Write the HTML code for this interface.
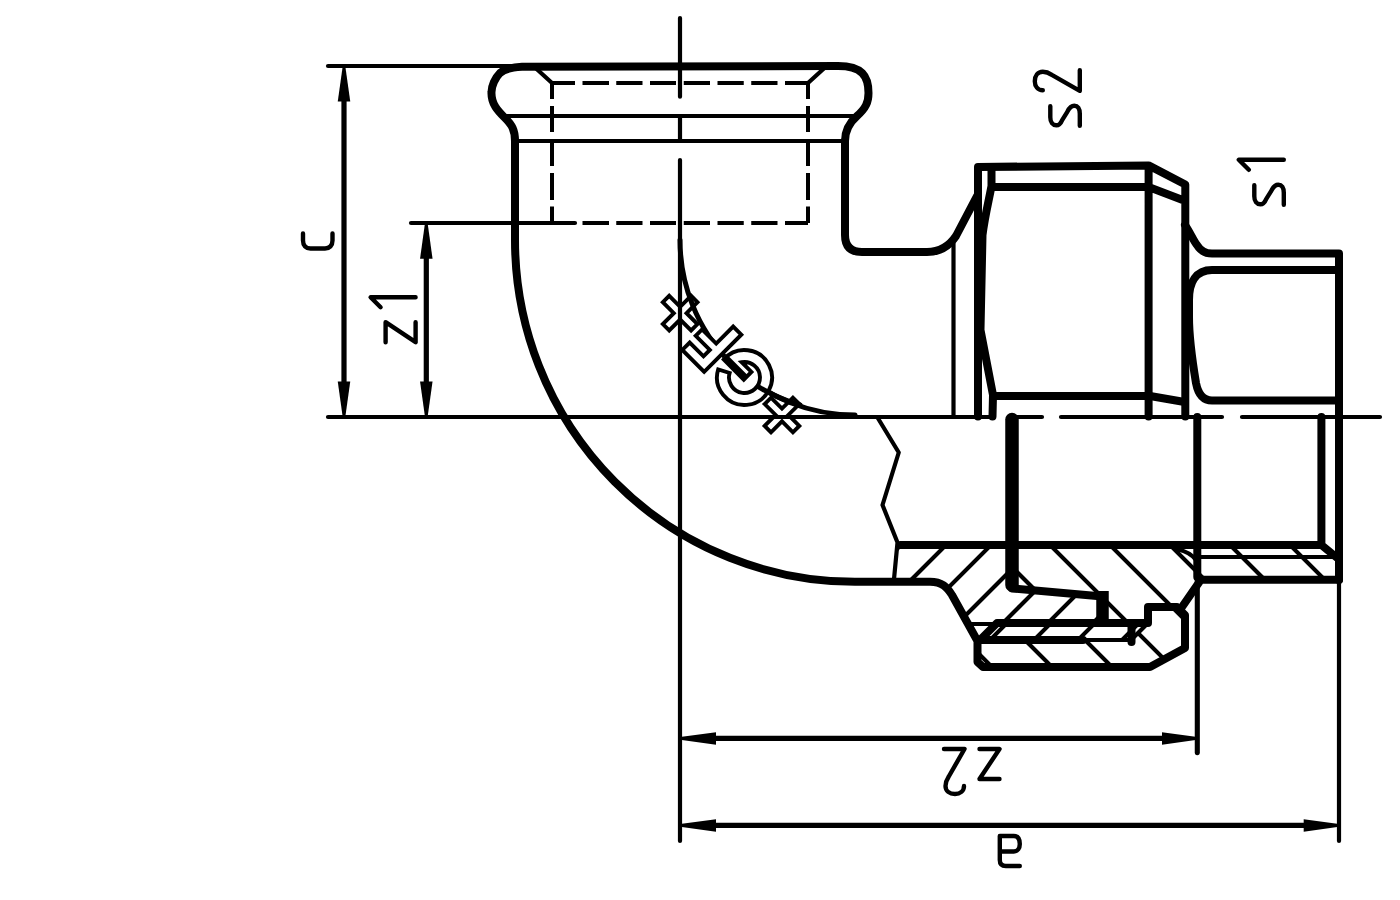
<!DOCTYPE html>
<html><head><meta charset="utf-8"><title>Union elbow drawing</title>
<style>html,body{margin:0;padding:0;background:#fff;width:1400px;height:900px;overflow:hidden;font-family:"Liberation Sans",sans-serif} svg{display:block}</style>
</head><body>
<svg width="1400" height="900" viewBox="0 0 1400 900">
<defs>
<clipPath id="c1"><polygon points="897.5,545 1012,545 1012,588.5 1102.5,596.5 1102.5,623 997,623 980,640 977.5,641 952,595 930,581.8 893.75,581.8"/></clipPath>
<clipPath id="c2"><polygon points="997,623 1148,623 1131,640 980,640"/></clipPath>
<clipPath id="c3"><polygon points="1012,545 1321,545 1338.5,559 1338.5,580 1200,580 1182,607 1148,607 1148,623 1102.5,623 1102.5,596.5 1012,588.5"/><polygon points="977.5,641 980,640 1131,640 1148,623 1148,607 1177,607 1185,615 1185,648 1150,667 983,667 977.5,662"/></clipPath>
<clipPath id="gout"><path clip-rule="evenodd" d="M0,0 H1400 V900 H0 Z M760,377.5 A15.5,15.5 0 1 0 729,377.5 A15.5,15.5 0 1 0 760,377.5 Z"/></clipPath>
</defs>
<rect width="1400" height="900" fill="#fff"/>
<g fill="none" stroke="#000" stroke-linecap="round" stroke-linejoin="round">
<g stroke-width="4.1"><path clip-path="url(#c1)" d="M901,500 L701,700 M946,500 L746,700 M991,500 L791,700 M1036,500 L836,700 M1081,500 L881,700 M1126,500 L926,700 M1171,500 L971,700 M1216,500 L1016,700 M1261,500 L1061,700"/><path clip-path="url(#c2)" d="M998,500 L798,700 M1042,500 L842,700 M1086,500 L886,700 M1130,500 L930,700 M1174,500 L974,700 M1218,500 L1018,700 M1262,500 L1062,700 M1306,500 L1106,700"/><path clip-path="url(#c3)" d="M765,500 L965,700 M825,500 L1025,700 M885,500 L1085,700 M945,500 L1145,700 M1005,500 L1205,700 M1065,500 L1265,700 M1125,500 L1325,700 M1185,500 L1385,700 M1245,500 L1445,700 M1305,500 L1505,700 M1365,500 L1565,700"/></g>
<path stroke-width="5" d="M680,240 A175,175 0 0 0 855,415"/>
<path stroke-width="5.2" stroke-linecap="butt" d="M344,100 L344,383 M426.3,257 L426.3,383 M714,738.4 L1164,738.4 M714,825.4 L1305,825.4"/>
<path stroke-width="5.1" d="M1197.3,577 L1197.3,752.6"/>
<g stroke-width="4.2"><path d="M328,66 L535,66"/><path d="M411,223 L575,223"/><path d="M328,417 L993,417 M1012,417 L1042,417 M1061,417 L1222,417 M1242,417 L1380,417"/><path d="M680,18 L680,96.7 M680,116 L680,140 M680,160 L680,841"/><path d="M505,116 L854,116 M517,141 L843,141"/><path d="M535,67.5 L552,83 M825,67.5 L808,83"/><path d="M953.5,243 L953.5,415"/><path d="M877.5,417.5 L898.75,452.5 L882.5,505 L897.5,542.5 L893.75,581.8"/><path d="M970,624 L997,624 M1083,640 L1131,640 M1131,640 L1148,623"/><path d="M1200,557 L1338,557 M1178,549.5 Q1190,552 1196,560"/><path d="M1339,580 L1339,841"/></g>
<path stroke-width="4" stroke-linecap="butt" d="M552,83 L575,83 M582.5,83 L609,83 M616.25,83 L642.5,83 M650,83 L676,83 M683.75,83 L710,83 M717.5,83 L743.75,83 M751.25,83 L777.5,83 M785,83 L808,83 M582.5,223 L609,223 M616.25,223 L642.5,223 M650,223 L676,223 M683.75,223 L710,223 M717.5,223 L743.75,223 M751.25,223 L777.5,223 M785,223 L808,223 M552,83 L552,99 M552,106 L552,132 M552,139.5 L552,166 M552,173 L552,200 M552,206.5 L552,223 M808,83 L808,99 M808,106 L808,132 M808,139.5 L808,166 M808,173 L808,200 M808,206.5 L808,223"/>
<g stroke-width="8"><path d="M515,141 C515,130 512,125 505,118 C498,111 491,104 491.5,92 C491.5,86 495,78 500,73 C505,68.5 512,67.3 522,66.8 L838,66 C862,66 868.5,76 868.5,93 C868.5,102 866,108 857,116 C849,123 845,130 845,141"/><path d="M515,141 L515,240 A340,341.8 0 0 0 855,581.8 L930,581.8 C942,581.8 947,587 952,595 L977.5,641 L977.5,662 L983,667 L1150,667 L1185,648 L1185,615 L1177,607 L1148,607 L1148,623 L997,623 L980,640 L1083,640"/><path d="M845,141 L845,235 Q845,252 862,252 L927,252 C942,252 950,245 956,236 L977,196"/><path d="M978,167 L978,416.5 M978,167 L1148.6,165.4 L1185.3,184.5 L1185.3,416.5 M1148.6,165.4 L1148.6,416.5 M994,187 L1148.6,187 L1184,200.5"/><path d="M991.5,168 L991.5,186 C989,200 985,215 982.5,235 L980.5,330 L993,395 L992.5,416.5 M993,396 L1150,396 L1184.6,402"/><path d="M1185,225 C1190,232 1193,240 1197,245 C1200,250 1205,253.5 1212,253.5 L1339,253.5 L1339,580"/><path d="M1335,270 L1212,270 C1196,270 1189,282 1189,300 L1189,317 C1189,340 1193,365 1196,383 C1198,393.5 1203,400.5 1212,400.5 L1335,400.5"/><path d="M1197.3,417 L1197.3,577 M1321.4,417 L1321.4,545 L1338.5,559 M900.5,545 L1321.4,545 M1200,579.7 L1339,579.7 M1182,607 L1200,581"/><path d="M1012,588.5 L1102.5,596.5"/><path d="M1131.5,626 L1131.5,642"/></g>
<path stroke-width="13.5" d="M1012,419.5 L1012,585"/><path stroke-width="12.5" stroke-linecap="butt" d="M1102.5,591 L1102.5,623"/>
<g stroke-width="4.4"><g transform="translate(1079.8,125.8) rotate(-90)"><path transform="translate(0,0)" d="M19.5,-29.5 L8.5,-29.5 C3.5,-29.5 0.5,-27 0.5,-23.5 C0.5,-20.5 2.5,-19 6,-17.5 L14,-12.5 C18,-10.5 20,-8 20,-5.5 C20,-2 17.5,0 12,0 L0,0"/><path transform="translate(35,0)" d="M0.5,-37 C0.5,-42 4.5,-45 9.5,-45 C15,-45 19,-42 19,-37 C19,-33 18,-31 16,-28 L0,0 L20.5,0"/></g><g transform="translate(1283.8,204.8) rotate(-90)"><path transform="translate(0,0)" d="M19.5,-29.5 L8.5,-29.5 C3.5,-29.5 0.5,-27 0.5,-23.5 C0.5,-20.5 2.5,-19 6,-17.5 L14,-12.5 C18,-10.5 20,-8 20,-5.5 C20,-2 17.5,0 12,0 L0,0"/><path transform="translate(35,0)" d="M0,-35 L10,-45 L10,0"/></g><g transform="translate(332.5,248.5) rotate(-90)"><path transform="translate(0,0)" d="M15,-29.5 L8,-29.5 C3,-29.5 0,-26.5 0,-22 L0,-7.5 C0,-3 3,0 8,0 L15,0"/></g><g transform="translate(415.6,342.2) rotate(-90)"><path transform="translate(0,0)" d="M0,-30 L20,-30 L0,0 L20,0"/><path transform="translate(35,0)" d="M0,-35 L10,-45 L10,0"/></g><g transform="translate(999.5,749) rotate(180)"><path transform="translate(0,0)" d="M0,-30 L20,-30 L0,0 L20,0"/><path transform="translate(35,0)" d="M0.5,-37 C0.5,-42 4.5,-45 9.5,-45 C15,-45 19,-42 19,-37 C19,-33 18,-31 16,-28 L0,0 L20.5,0"/></g><g transform="translate(1019.8,836) rotate(180)"><path transform="translate(0,0)" d="M0,-30 L14,-30 C18,-30 20,-28 20,-24 L20,0 M20,-15.5 L6,-15.5 C2,-15.5 0,-12 0,-8 C0,-3 2,0 6,0 L20,0"/></g></g>
<g transform="translate(744.5,377.5) rotate(225)" stroke-linejoin="miter">
<path fill="#fff" stroke="none" d="M32.5,-24.5 L63.5,-24.5 L63.5,-14 L44,-14 L44,-5 L64,-5 L64,4 L44,4 L44,28 L32.5,28 Z"/>
<circle r="29" fill="#fff" stroke="none"/>
<g stroke-width="3.9"><path d="M-57.5,-20 L-48.5,-20 L-48.5,-4.5 L-33,-4.5 L-33,4.5 L-48.5,4.5 L-48.5,20 L-57.5,20 L-57.5,4.5 L-73,4.5 L-73,-4.5 L-57.5,-4.5 Z"/><path d="M86.5,-20 L95.5,-20 L95.5,-4.5 L111,-4.5 L111,4.5 L95.5,4.5 L95.5,20 L86.5,20 L86.5,4.5 L71,4.5 L71,-4.5 L86.5,-4.5 Z"/><path d="M32.5,-24.5 L63.5,-24.5 L63.5,-14 L44,-14 L44,-5 L64,-5 L64,4 L44,4 L44,28 L32.5,28 Z"/><path d="M24.3,-12.9 A27.5,27.5 0 1 0 27.43,-2 L-1,-2 L-1,8.8 L12.8,8.8 A15.5,15.5 0 1 1 13.7,-7.3 Z"/></g>
<path stroke-width="5.1" stroke-linecap="butt" d="M28,1.35 L-1,1.35"/>
</g>
<path stroke-width="5" clip-path="url(#gout)" d="M744.5,377.5 A175,175 0 0 0 800,405"/>
</g>
<g fill="#000"><path d="M345.30,66.30 L350.25,101.40 L337.75,101.40 L342.70,66.30 Z"/><path d="M342.70,416.90 L337.75,381.50 L350.25,381.50 L345.30,416.90 Z"/><path d="M427.60,223.00 L432.55,258.80 L420.05,258.80 L425.00,223.00 Z"/><path d="M425.00,416.90 L420.05,381.50 L432.55,381.50 L427.60,416.90 Z"/><path d="M680.00,737.10 L716.00,732.15 L716.00,744.65 L680.00,739.70 Z"/><path d="M1197.30,739.70 L1162.00,744.65 L1162.00,732.15 L1197.30,737.10 Z"/><path d="M680.00,824.10 L716.00,819.15 L716.00,831.65 L680.00,826.70 Z"/><path d="M1339.00,826.70 L1303.70,831.65 L1303.70,819.15 L1339.00,824.10 Z"/></g>
</svg>
</body></html>
